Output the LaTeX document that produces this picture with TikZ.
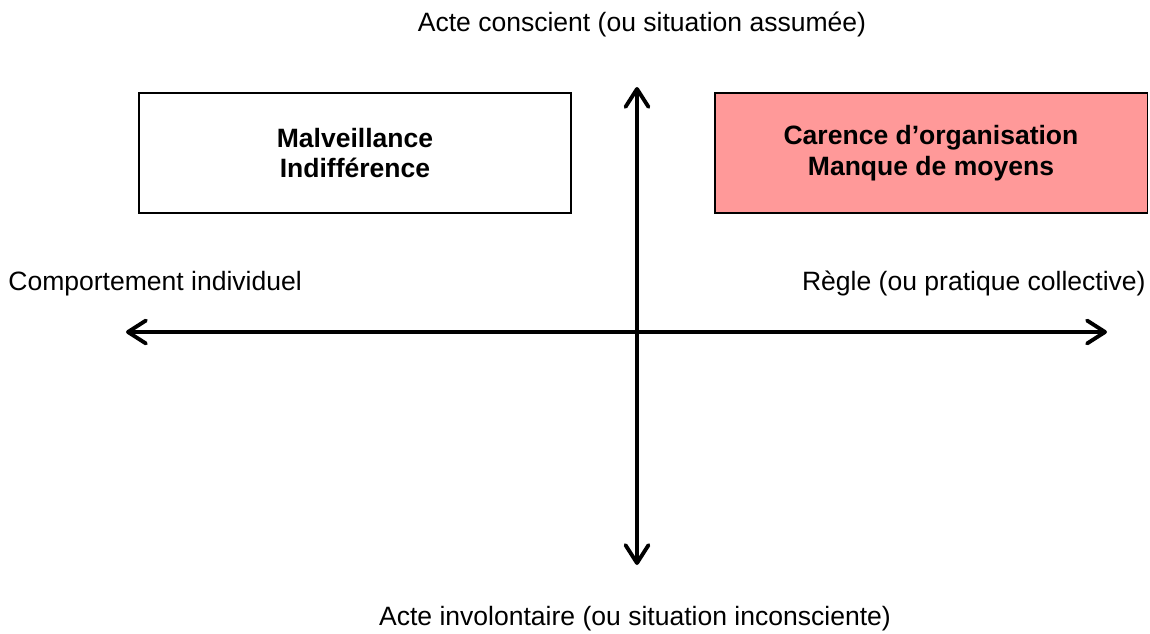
\documentclass[tikz,border=0pt]{standalone}
\usepackage{fontspec}
\setmainfont{Liberation Sans}
\usepackage{xcolor}
\usepackage{tikz}
\usetikzlibrary{arrows.meta}

\definecolor{carence}{RGB}{255,153,153}

\begin{document}
\begin{tikzpicture}[x=0.02cm, y=-0.02cm,
    every node/.style={font=\fontsize{15.1}{17.6}\selectfont, inner sep=0pt},
    axis/.style={line width=2.2pt, {Straight Barb[length=3.6mm, width=4.6mm, round]}-{Straight Barb[length=3.6mm, width=4.6mm, round]}},
    quadrant/.style={draw, line width=1.1pt, minimum width=8.66cm, minimum height=2.4cm,
        align=center, font=\fontsize{15.1}{17.6}\bfseries\selectfont},
    pole/.style={fill=none}]

    \useasboundingbox (0,0) rectangle (1150,633);

    % Axis ends
    \coordinate (top) at (637,87);
    \coordinate (bottom) at (637,565);
    \coordinate (left) at (126,332);
    \coordinate (right) at (1107,332);

    % Quadrants
    \node[quadrant, fill=white] (malv) at (355,153) {Malveillance\\Indifférence};
    \node[quadrant, fill=carence] (orga) at (931,153) {Carence d’organisation\\Manque de moyens};

    % Axes
    \draw[axis] (left) -- (right);
    \draw[axis] (bottom) -- (top);

    % Labels
    \node[pole, anchor=base] (conscient) at (642,31) {Acte conscient (ou situation assumée)};
    \node[pole, anchor=base] (involontaire) at (635,625) {Acte involontaire (ou situation inconsciente)};
    \node[pole, anchor=base west] (individuel) at (8,290) {Comportement individuel};
    \node[pole, anchor=base east] (regle) at (1146,290) {Règle (ou pratique collective)};
\end{tikzpicture}
\end{document}
